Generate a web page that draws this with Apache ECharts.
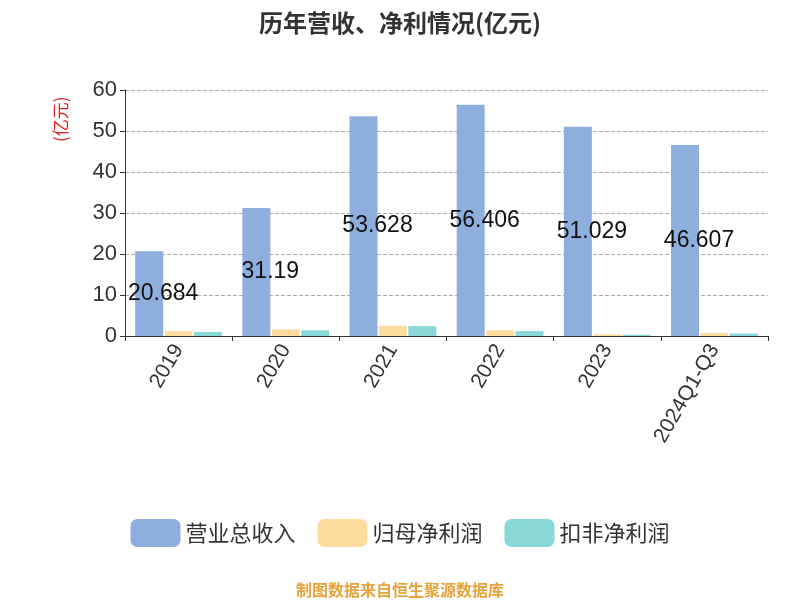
<!DOCTYPE html>
<html>
<head>
<meta charset="utf-8">
<script src="https://cdn.jsdelivr.net/npm/echarts@6/dist/echarts.min.js"></script>
<style>html,body{margin:0;padding:0;background:#fff}#main{width:800px;height:600px}</style>
</head>
<body>
<div id="main"></div>
<script>
// 年份与数据
var years = ['2019', '2020', '2021', '2022', '2023', '2024Q1-Q3'];
var revenue = [20.684, 31.19, 53.628, 56.406, 51.029, 46.607];
var netProfit = [1.2, 1.6, 2.5, 1.4, 0.4, 0.7];
var deductedProfit = [1.0, 1.4, 2.4, 1.2, 0.3, 0.6];

var myChart = echarts.init(document.getElementById('main'));
var option = {
    backgroundColor: '#fff',
    title: {
        text: '历年营收、净利情况(亿元)',
        left: 'center',
        top: 6,
        textStyle: {fontSize: 24, fontWeight: 'bold', color: '#333', fontFamily: 'Noto Sans CJK SC'}
    },
    legend: {
        bottom: 48,
        itemWidth: 50,
        itemHeight: 28,
        itemGap: 22,
        textStyle: {fontSize: 22, color: '#333', fontFamily: 'Noto Sans CJK SC'},
        data: ['营业总收入', '归母净利润', '扣非净利润']
    },
    graphic: [{
        type: 'text',
        left: 'center',
        bottom: 2,
        style: {text: '制图数据来自恒生聚源数据库', fill: '#e8a33c', fontSize: 16, fontWeight: 'bold', fontFamily: 'Noto Sans CJK SC'}
    }, {
        type: 'text',
        x: 52, y: 142,
        rotation: Math.PI / 2,
        style: {text: '(亿元)', fill: '#e02020', fontSize: 17, fontFamily: 'Noto Sans CJK SC'}
    }],
    grid: {left: 125, right: 32, top: 90, bottom: 264},
    xAxis: {
        type: 'category',
        data: years,
        axisLine: {lineStyle: {color: '#333'}},
        axisTick: {show: true, lineStyle: {color: '#333'}},
        axisLabel: {rotate: 60, fontSize: 21, color: '#333', margin: 10}
    },
    yAxis: {
        type: 'value',
        min: 0, max: 60, interval: 10,
        axisLine: {show: true, lineStyle: {color: '#333'}},
        axisTick: {show: true},
        axisLabel: {fontSize: 22, color: '#333'},
        splitLine: {lineStyle: {type: 'dashed', color: '#aaa'}}
    },
    series: [{
        name: '营业总收入', type: 'bar', data: revenue,
        barWidth: 28, barGap: '5%',
        itemStyle: {color: '#8eaede'},
        label: {show: true, position: 'inside', offset: [14, 0], color: '#111', fontSize: 23, formatter: function (p) { return p.value; }},
        z: 3
    }, {
        name: '归母净利润', type: 'bar', data: netProfit,
        barWidth: 28, barGap: '5%',
        itemStyle: {color: '#fddca0'}
    }, {
        name: '扣非净利润', type: 'bar', data: deductedProfit,
        barWidth: 28, barGap: '5%',
        itemStyle: {color: '#88d8d8'}
    }]
};
myChart.setOption(option);
</script>
</body>
</html>
